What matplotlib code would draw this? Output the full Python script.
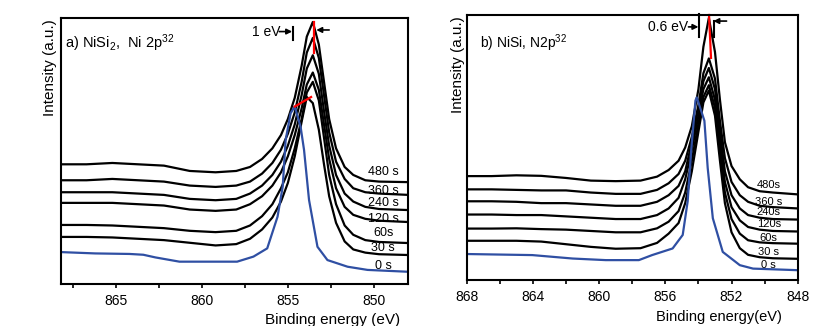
import matplotlib
matplotlib.use('Agg')
import matplotlib.pyplot as plt
import matplotlib.ticker as mticker

plt.rcParams['font.family'] = ['Liberation Sans', 'DejaVu Sans']
plt.rcParams['mathtext.default'] = 'regular'

# sputter times, top curve first
labels_a = ["480 s", "360 s", "240 s", "120 s", "60s", "30 s", "0 s"]
labels_b = ["480s", "360 s", "240s", "120s", "60s", "30 s", "0 s"]

# ---- a) NiSi2, Ni 2p3/2 ----
e_a = [868.2, 866.7, 865.2, 863.7, 862.2, 860.7, 859.2, 858.0, 857.2, 856.5, 855.9, 855.4, 855.0,
       854.6, 854.2, 853.9, 853.55, 853.2, 852.9, 852.6, 852.2, 851.7, 851.2, 850.5, 849.7, 848.0]
a_480 = [45, 45, 45.5, 45, 44.5, 42.5, 42, 42.5, 44, 47, 51, 56, 62, 70, 82, 93, 98.5, 90, 76, 62, 51, 44, 41, 39, 38.5, 38.3]
a_360 = [39, 39, 39.5, 39, 38.5, 37, 36.5, 37, 38.5, 41.5, 45.5, 50.5, 56.5, 64.5, 76, 87, 92.5, 85, 71, 57, 46, 39.5, 36, 34.5, 34, 33.5]
a_240 = [34.5, 34.5, 34.5, 34, 33.5, 32, 31.5, 32, 34, 37, 41, 46, 52, 60, 71, 81, 86, 79, 65, 52, 41, 34, 31, 29, 28.2, 27.8]
a_120 = [30.5, 30.5, 30.5, 30, 29.5, 28, 27.5, 28, 30, 33, 37, 42, 48, 56, 66, 75, 79.5, 73, 60, 47, 36, 29, 26, 24.5, 23.8, 23.3]
a_60 = [22.2, 22.2, 22, 21.5, 21, 20, 19.5, 20, 22, 25.5, 30, 36, 42, 51, 62, 72, 76, 69, 55, 41, 30, 22, 18.5, 16.5, 15.8, 15.4]
a_30 = [17.7, 17.7, 17.5, 17, 16.5, 15.5, 14.5, 15, 17, 20.5, 25, 31, 38, 48, 61, 70.3, 68, 58, 45, 33, 23, 16, 13, 11.8, 11.2, 10.9]
e_a0 = [868.2, 866.2, 864.2, 863.4, 862.7, 861.3, 859.7, 857.95, 857.0, 856.2, 855.6, 855.3, 855.13,
        854.84, 854.6, 854.26, 854.06, 853.77, 853.28, 852.7, 851.53, 850.37, 848.0]
a_0 = [12.0, 11.5, 11.3, 11.0, 10.0, 8.4, 8.4, 8.4, 10.3, 13.4, 25.3, 36.6, 54.1,
       64.2, 66.7, 59.1, 50.4, 31.6, 14.0, 9.0, 6.5, 5.3, 4.6]
lab_y_a = [42.1, 35.0, 30.5, 24.4, 19.2, 13.5, 6.8]

# ---- b) NiSi, Ni 2p3/2 ----
e_b = [868, 866.5, 865, 863.5, 862, 860.5, 859, 857.5, 856.5, 855.8, 855.2, 854.8, 854.4,
       854.0, 853.7, 853.37, 853.0, 852.7, 852.4, 852.0, 851.5, 851.0, 850.3, 849.5, 848]
b_480 = [39.2, 39.2, 39.5, 39.3, 38.5, 37.5, 37.3, 37.5, 39, 41.5, 45, 50, 58, 72, 88, 98.9, 86, 68, 52, 43, 38, 35, 33.5, 33, 32.3]
b_360 = [34.2, 34.2, 34, 33.8, 33.8, 33, 32.5, 32.5, 34, 36.5, 40, 45, 54, 66, 78, 83.6, 76, 60, 46, 37, 32, 29.5, 28, 27.5, 27]
b_240 = [29.7, 29.7, 29.5, 29, 29, 28.5, 28, 28, 29.5, 32, 35.5, 41, 52, 65, 75, 80, 72, 56, 41, 32, 27, 24.5, 23.5, 23, 22.8]
b_120 = [24.7, 24.7, 24.5, 24.5, 24, 23.5, 23, 23, 24.5, 27, 31, 38, 49, 62, 72, 76.5, 68, 52, 37, 27.5, 22.5, 20, 19, 18.5, 18.3]
b_60 = [19.4, 19.4, 19.5, 19.2, 19, 18.5, 18, 18, 19.5, 22, 26, 33, 45, 59, 69, 73.5, 65, 48, 33, 23, 17.5, 15, 14.2, 13.9, 13.7]
b_30 = [14.8, 14.8, 14.8, 14.5, 13.5, 12.5, 11.8, 12, 14, 17.5, 21.5, 29, 41, 56, 67, 71.5, 62, 45, 29, 18, 12, 9.5, 8.6, 8.2, 8.0]
e_b0 = [868, 864.04, 861.6, 859.6, 857.6, 856.8, 855.56, 854.95, 854.65, 854.44, 854.18, 854.10,
        853.64, 853.44, 853.13, 852.53, 851.5, 850.7, 848.0]
b_0 = [9.8, 9.4, 8.1, 7.5, 7.5, 9.4, 11.9, 17.0, 29.7, 48.7, 67.7, 68.9,
       60.1, 42.3, 23.3, 10.6, 5.6, 4.3, 3.7]
lab_y_b = [35.8, 29.6, 25.6, 21.3, 15.8, 10.6, 5.7]

blue = '#2f4fa3'

fig = plt.figure(figsize=(8.16, 3.26), dpi=100)
ax1 = fig.add_axes([0.0744, 0.1288, 0.426, 0.816])
ax2 = fig.add_axes([0.572, 0.1411, 0.4056, 0.813])

def style(ax, xlim, major, minor):
    ax.set_xlim(*xlim)
    ax.set_ylim(0, 100)
    ax.xaxis.set_major_locator(mticker.MultipleLocator(major))
    ax.xaxis.set_minor_locator(mticker.MultipleLocator(minor))
    ax.tick_params(axis='x', which='both', direction='out', length=3, width=1.2, labelsize=10, pad=4)
    ax.set_yticks([])
    for s in ax.spines.values():
        s.set_linewidth(1.5)

# panel a
for y in [a_480, a_360, a_240, a_120, a_60, a_30]:
    ax1.plot(e_a, y, color='black', lw=1.6)
ax1.plot(e_a0, a_0, color=blue, lw=1.6)
for t, yy in zip(labels_a, lab_y_a):
    ax1.text(849.45, yy, t, ha='center', va='center', fontsize=9)
style(ax1, (868.2, 848), 5, 2.5)
ax1.text(0.012, 0.906, r"a) NiSi$_2$,  Ni 2p$^{32}$", transform=ax1.transAxes, fontsize=10.5, va='center')
ax1.text(-0.031, 0.995, "Intensity (a.u.)", transform=ax1.transAxes, rotation=90, ha='center', va='top', fontsize=11)
ax1.set_xlabel("Binding energy (eV)", fontsize=11, ha='right', va='center')
ax1.xaxis.set_label_coords(0.976, -0.135)
ax1.plot([854.6, 853.65], [66.7, 70.3], color='red', lw=1.6)
ax1.plot([853.5, 853.5], [98.5, 86.8], color='red', lw=1.6)
ax1.plot([854.7, 854.7], [91.7, 96.6], color='black', lw=1.5)
ax1.annotate("", xy=(854.75, 94.9), xytext=(855.5, 94.9),
             arrowprops=dict(arrowstyle='-|>', color='black', lw=1.2, mutation_scale=8, shrinkA=0, shrinkB=0))
ax1.annotate("", xy=(853.35, 95.5), xytext=(852.6, 95.5),
             arrowprops=dict(arrowstyle='-|>', color='black', lw=1.2, mutation_scale=8, shrinkA=0, shrinkB=0))
ax1.text(855.45, 94.9, "1 eV", ha='right', va='center', fontsize=10)

# panel b
for y in [b_480, b_360, b_240, b_120, b_60, b_30]:
    ax2.plot(e_b, y, color='black', lw=1.6)
ax2.plot(e_b0, b_0, color=blue, lw=1.6)
for t, yy in zip(labels_b, lab_y_b):
    ax2.text(849.75, yy, t, ha='center', va='center', fontsize=8)
style(ax2, (868, 848), 4, 2)
ax2.text(0.04, 0.894, r"b) NiSi, N2p$^{32}$", transform=ax2.transAxes, fontsize=10, va='center')
ax2.text(-0.025, 0.995, "Intensity (a.u.)", transform=ax2.transAxes, rotation=90, ha='center', va='top', fontsize=11)
ax2.set_xlabel("Binding energy(eV)", fontsize=10.5, ha='right', va='center')
ax2.xaxis.set_label_coords(0.952, -0.138)
ax2.plot([853.36, 853.24], [100, 83.8], color='red', lw=1.6, clip_on=False)
ax2.plot([853.96, 853.96], [91.7, 100.4], color='black', lw=1.5, clip_on=False)
ax2.plot([853.06, 853.06], [91.7, 97.7], color='black', lw=1.5, clip_on=False)
ax2.annotate("", xy=(854.0, 95.5), xytext=(854.6, 95.5),
             arrowprops=dict(arrowstyle='-|>', color='black', lw=1.2, mutation_scale=8, shrinkA=0, shrinkB=0))
ax2.annotate("", xy=(853.1, 97.7), xytext=(852.3, 97.7),
             arrowprops=dict(arrowstyle='-|>', color='black', lw=1.2, mutation_scale=8, shrinkA=0, shrinkB=0))
ax2.text(854.63, 95.5, "0.6 eV", ha='right', va='center', fontsize=10)

plt.savefig('out.png', dpi=100)
plt.close()
